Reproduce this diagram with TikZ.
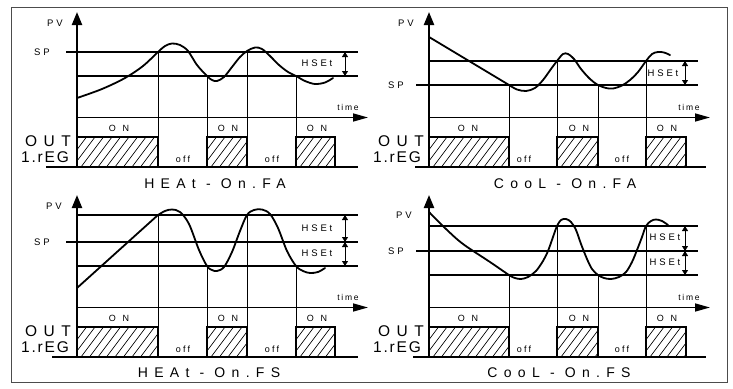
\documentclass[tikz,border=0pt]{standalone}
\usepackage{fontspec}
\setmainfont{Liberation Sans}
\newfontfamily\lblfont[LetterSpace=30]{Liberation Sans}
\newfontfamily\tmfont[LetterSpace=20]{Liberation Sans}
\newfontfamily\onfont[LetterSpace=75]{Liberation Sans}
\newfontfamily\offfont[LetterSpace=25]{Liberation Sans}
\newfontfamily\bigfont[LetterSpace=42]{Liberation Sans}
\newfontfamily\titfont[LetterSpace=45]{Liberation Sans}
\newfontfamily\regfont[LetterSpace=12]{Liberation Sans}
\usetikzlibrary{arrows.meta}
\tikzset{
  axisline/.style={line width=2.2pt,-{Triangle[length=13pt,width=10pt]}},
  taxis/.style={line width=1.6pt,-{Triangle[length=15pt,width=8pt]}},
  refline/.style={line width=1.3pt},
  trline/.style={line width=0.7pt},
  curveline/.style={line width=1.8pt,line join=round,line cap=round},
  baseline/.style={line width=2.2pt},
  hsarrow/.style={line width=0.9pt,{Triangle[length=5pt,width=6pt]}-{Triangle[length=5pt,width=6pt]}},
  hatchline/.style={line width=0.65pt},
  boxline/.style={line width=2pt},
  lbl/.style={inner sep=0pt,font=\lblfont\fontsize{9.5}{9.5}\selectfont},
  tlbl/.style={inner sep=0pt,font=\tmfont\fontsize{8.5}{8.5}\selectfont},
  onl/.style={inner sep=0pt,font=\onfont\fontsize{9}{9}\selectfont},
  offl/.style={inner sep=0pt,font=\offfont\fontsize{9}{9}\selectfont},
  outl/.style={inner sep=0pt,font=\bigfont\fontsize{15.5}{15.5}\selectfont},
  regl/.style={inner sep=0pt,font=\regfont\fontsize{15.5}{15.5}\selectfont},
  titl/.style={inner sep=0pt,font=\titfont\fontsize{14}{14}\selectfont},
}
\newcommand\hatchrect[4]{%
  \begin{scope}
    \clip (#1,#2) rectangle (#3,#4);
    \foreach \k in {-30,-21.5,...,90} \draw[hatchline] ({#1+\k},#4) -- ++(24,-32);
  \end{scope}
  \draw[boxline] (#1,#4) -- (#1,#2) -- (#3,#2) -- (#3,#4);
}
\begin{document}
\begin{tikzpicture}[x=1pt,y=-1pt]
\useasboundingbox (0,0) rectangle (733,388);
\draw[line width=0.9pt,black!70] (11,7) rectangle (727,382);

% ================= Top-left: HEAt - On.FA =================
\draw[refline] (66,52) -- (358,52);
\draw[refline] (77,76) -- (358,76);
\draw[trline] (158,52) -- (158,167);
\draw[trline] (207,76) -- (207,167);
\draw[trline] (247,52) -- (247,167);
\draw[trline] (296,76) -- (296,167);
\hatchrect{77}{137}{158}{167}
\hatchrect{207}{137}{247}{167}
\hatchrect{296}{137}{335}{167}
\draw[baseline] (46,167) -- (358,167);
\draw[taxis] (77,117.5) -- (368,117.5);
\draw[axisline] (77,167) -- (77,12);
\draw[curveline] plot[smooth,tension=0.55] coordinates {(77,98) (102,89) (125,78) (143,66) (158,52) (165,46) (172,43.5) (180,45) (188,51) (197,65) (207,76) (212,80) (217,81) (224,77) (232,67) (240,57) (247,51) (255,47.5) (262,49) (270,56) (279,65) (288,72) (296,76) (305,81) (315,84) (325,82.5) (333,78)};
\draw[hsarrow] (345,52) -- (345,76);
\node[lbl] (pv1) at (55,23) {PV};
\node[lbl] (sp1) at (42,52) {SP};
\node[lbl] (hs1) at (317,63) {HSEt};
\node[tlbl] (tm1) at (348,107) {time};
\node[onl] (on1a) at (119,128) {ON};
\node[onl] (on1b) at (228,128) {ON};
\node[onl] (on1c) at (317,128) {ON};
\node[offl] (off1a) at (183,159) {off};
\node[offl] (off1b) at (272,159) {off};
\node[outl] (out1) at (48,141) {OUT};
\node[regl] (reg1) at (45,157.5) {1.rEG};
\node[titl] (tit1) at (215,184) {HEAt - On.FA};

% ================= Top-right: CooL - On.FA =================
\draw[refline] (429,61) -- (698,61);
\draw[refline] (416,85) -- (698,85);
\draw[trline] (509,85) -- (509,167);
\draw[trline] (557,61) -- (557,167);
\draw[trline] (598,85) -- (598,167);
\draw[trline] (646,61) -- (646,167);
\hatchrect{429}{137}{509}{167}
\hatchrect{557}{137}{598}{167}
\hatchrect{646}{137}{686}{167}
\draw[baseline] (415,167) -- (706,167);
\draw[taxis] (429,117.5) -- (710,117.5);
\draw[axisline] (429,167) -- (429,12);
\draw[curveline] (429,37) -- (509,85) plot[smooth,tension=0.55] coordinates {(509,85) (517,89.5) (526,91) (535,88) (543,80) (551,69) (557,61) (563,54) (568,54) (574,59) (581,69) (590,79) (598,85) (606,88) (613,88.5) (622,85.5) (630,80) (638,72) (646,61) (652,54) (658,52) (664,52.5) (670,55)};
\draw[hsarrow] (685,61) -- (685,85);
\node[lbl] (pv2) at (406,23) {PV};
\node[lbl] (sp2) at (396,85) {SP};
\node[lbl] (hs2) at (663,73) {HSEt};
\node[tlbl] (tm2) at (689,107) {time};
\node[onl] (on2a) at (468,128) {ON};
\node[onl] (on2b) at (579,128) {ON};
\node[onl] (on2c) at (667,128) {ON};
\node[offl] (off2a) at (524,159) {off};
\node[offl] (off2b) at (622,159) {off};
\node[outl] (out2) at (401,141) {OUT};
\node[regl] (reg2) at (397,157.5) {1.rEG};
\node[titl] (tit2) at (565,184) {CooL - On.FA};

% ================= Bottom-left: HEAt - On.FS =================
\draw[refline] (77,215) -- (358,215);
\draw[refline] (66,242) -- (358,242);
\draw[refline] (77,266) -- (358,266);
\draw[trline] (158,215) -- (158,357);
\draw[trline] (207,266) -- (207,357);
\draw[trline] (247,215) -- (247,357);
\draw[trline] (296,266) -- (296,357);
\hatchrect{77}{327}{158}{357}
\hatchrect{207}{327}{247}{357}
\hatchrect{296}{327}{335}{357}
\draw[baseline] (52,357) -- (358,357);
\draw[taxis] (77,307.5) -- (368,307.5);
\draw[axisline] (77,357) -- (77,195);
\draw[curveline] (77,288) -- (158,215) plot[smooth,tension=0.55] coordinates {(158,215) (165,211) (172,209.5) (180,212) (189,224) (199,250) (207,266) (212,270) (217,271) (224,267) (232,252) (240,231) (247,215) (254,210) (262,209.5) (270,214) (278,228) (287,251) (296,266) (303,271) (310,273) (318,272) (325,268)};
\draw[hsarrow] (345,215) -- (345,242);
\draw[hsarrow] (345,242) -- (345,266);
\node[lbl] (pv3) at (54,206) {PV};
\node[lbl] (sp3) at (42,242) {SP};
\node[lbl] (hs3a) at (317,228) {HSEt};
\node[lbl] (hs3b) at (317,253) {HSEt};
\node[tlbl] (tm3) at (348,297) {time};
\node[onl] (on3a) at (119,318) {ON};
\node[onl] (on3b) at (228,318) {ON};
\node[onl] (on3c) at (317,318) {ON};
\node[offl] (off3a) at (183,349) {off};
\node[offl] (off3b) at (272,349) {off};
\node[outl] (out3) at (48,331) {OUT};
\node[regl] (reg3) at (45,347.5) {1.rEG};
\node[titl] (tit3) at (209,373) {HEAt - On.FS};

% ================= Bottom-right: CooL - On.FS =================
\draw[refline] (429,226) -- (698,226);
\draw[refline] (416,251) -- (698,251);
\draw[refline] (429,275) -- (698,275);
\draw[trline] (509,275) -- (509,357);
\draw[trline] (557,226) -- (557,357);
\draw[trline] (598,275) -- (598,357);
\draw[trline] (646,226) -- (646,357);
\hatchrect{429}{327}{509}{357}
\hatchrect{557}{327}{598}{357}
\hatchrect{646}{327}{686}{357}
\draw[baseline] (413,357) -- (706,357);
\draw[taxis] (429,307.5) -- (710,307.5);
\draw[axisline] (429,357) -- (429,195);
\draw[curveline] plot[smooth,tension=0.55] coordinates {(429,212) (446,229) (463,244) (490,262) (509,275) (515,278) (521,279) (528,277) (536,271) (543,261) (548,251) (553,237) (557,226) (561,220) (566,219) (571,222) (576,230) (581,244) (587,259) (592,269) (598,275) (604,278) (611,279) (619,277) (626,272) (632,262) (637,250) (642,237) (646,226) (651,221) (656,219.5) (662,221) (668,225)};
\draw[hsarrow] (685,226) -- (685,251);
\draw[hsarrow] (685,251) -- (685,275);
\node[lbl] (pv4) at (404,215) {PV};
\node[lbl] (sp4) at (396,251) {SP};
\node[lbl] (hs4a) at (665,237) {HSEt};
\node[lbl] (hs4b) at (665,262) {HSEt};
\node[tlbl] (tm4) at (689,297) {time};
\node[onl] (on4a) at (468,318) {ON};
\node[onl] (on4b) at (579,318) {ON};
\node[onl] (on4c) at (667,318) {ON};
\node[offl] (off4a) at (524,349) {off};
\node[offl] (off4b) at (622,349) {off};
\node[outl] (out4) at (401,331) {OUT};
\node[regl] (reg4) at (397,347.5) {1.rEG};
\node[titl] (tit4) at (559,373) {CooL - On.FS};
\end{tikzpicture}
\end{document}
